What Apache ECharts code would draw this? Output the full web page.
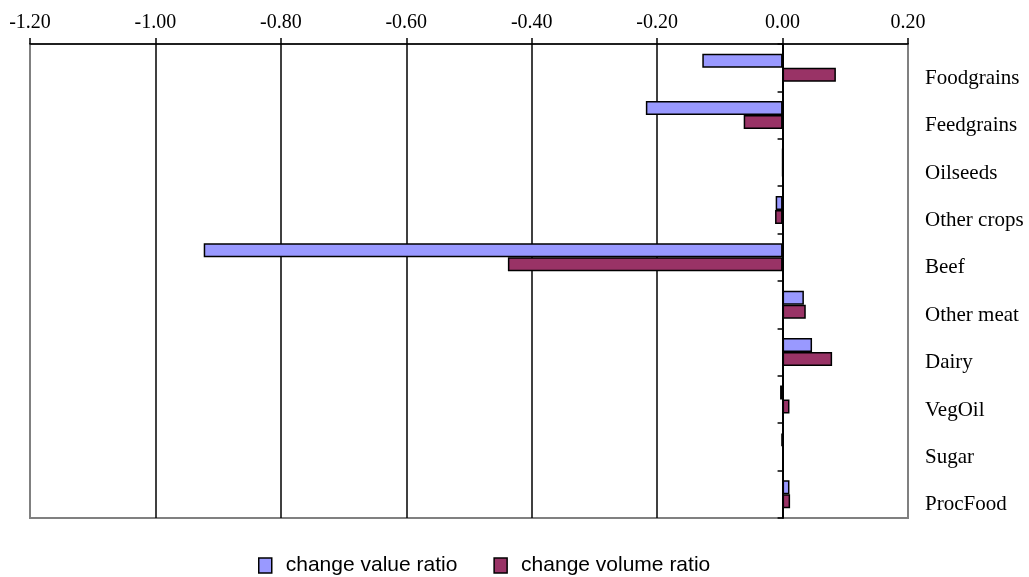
<!DOCTYPE html>
<html>
<head>
<meta charset="utf-8">
<script src="https://cdn.jsdelivr.net/npm/echarts@6/dist/echarts.min.js"></script>
<style>
  html, body { margin: 0; padding: 0; background: #fff; }
  #chart { width: 1029px; height: 577px; }
</style>
</head>
<body>
<div id="chart"></div>
<script>
// Commodity groups, top to bottom
const categories = ['Foodgrains', 'Feedgrains', 'Oilseeds', 'Other crops', 'Beef',
  'Other meat', 'Dairy', 'VegOil', 'Sugar', 'ProcFood'];
// Change ratios per commodity
const valueRatio = [-0.128, -0.218, 0.000, -0.011, -0.923, 0.034, 0.047, -0.004, -0.002, 0.011];
const volumeRatio = [0.085, -0.062, 0.000, -0.012, -0.438, 0.037, 0.079, 0.011, 0.002, 0.012];
// Horizontal value axis ticks
const axisMin = -1.2, axisMax = 0.2, axisStep = 0.2;

const serif = 'Liberation Serif';
const chart = echarts.init(document.getElementById('chart'));
const gridColors = ['#808080', '#000', '#000', '#000', '#000', '#000', '#000', '#808080'];

chart.setOption({
  animation: false,
  backgroundColor: '#fff',
  grid: {
    left: 30, right: 121, top: 44, bottom: 59,
    show: true, borderColor: '#808080', borderWidth: 2, backgroundColor: 'transparent'
  },
  legend: {
    left: 258, top: 555, padding: 0,
    itemWidth: 13, itemHeight: 15, itemGap: 36,
    icon: 'rect',
    textStyle: { fontFamily: 'Liberation Sans', fontSize: 21, color: '#000', padding: [0, 0, 0, 9] },
    data: [
      { name: 'change value ratio', itemStyle: { borderColor: '#000', borderWidth: 1.5 } },
      { name: 'change volume ratio', itemStyle: { borderColor: '#000', borderWidth: 1.5 } }
    ]
  },
  xAxis: {
    type: 'value',
    position: 'top',
    min: axisMin, max: axisMax, interval: axisStep,
    axisLine: { show: true, onZero: false, lineStyle: { color: '#000', width: 1.5 } },
    axisTick: { show: true, length: 6, lineStyle: { color: '#000', width: 1.5 } },
    axisLabel: {
      margin: 11, color: '#000', fontFamily: serif, fontSize: 20,
      formatter: v => v.toFixed(2)
    },
    splitLine: { show: true, lineStyle: { color: gridColors, width: 1.5 } }
  },
  yAxis: [
    {
      type: 'category',
      data: categories,
      inverse: true,
      axisLine: { show: true, onZero: true, lineStyle: { color: '#000', width: 2 } },
      axisTick: { show: true, length: 5, lineStyle: { color: '#000', width: 1.5 } },
      axisLabel: { show: false },
      splitLine: { show: false }
    },
    {
      type: 'category',
      data: categories,
      inverse: true,
      position: 'right',
      axisLine: { show: false, onZero: false },
      axisTick: { show: false },
      axisLabel: {
        show: true, margin: 17, align: 'left', verticalAlign: 'top',
        color: '#000', fontFamily: serif, fontSize: 21
      },
      splitLine: { show: false }
    }
  ],
  series: [
    {
      name: 'change value ratio',
      type: 'bar',
      yAxisIndex: 0,
      data: valueRatio,
      barWidth: 14,
      barGap: '0%',
      itemStyle: { color: '#9999FF', borderColor: '#000', borderWidth: 1.5 }
    },
    {
      name: 'change volume ratio',
      type: 'bar',
      yAxisIndex: 0,
      data: volumeRatio,
      barWidth: 14,
      barGap: '0%',
      itemStyle: { color: '#993366', borderColor: '#000', borderWidth: 1.5 }
    }
  ]
});
</script>
</body>
</html>
